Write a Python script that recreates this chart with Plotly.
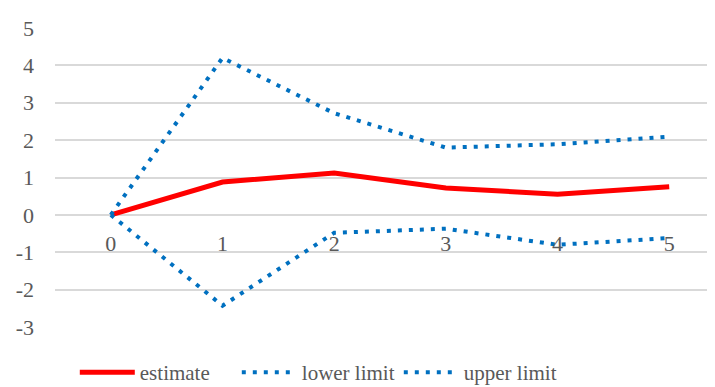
import plotly.graph_objects as go

categories = ["0", "1", "2", "3", "4", "5"]
estimate = [0, 0.88, 1.12, 0.72, 0.55, 0.75]
lower_limit = [0, -2.43, -0.48, -0.37, -0.80, -0.62]
upper_limit = [0, 4.2, 2.72, 1.80, 1.89, 2.09]
y_ticks = [-3, -2, -1, 0, 1, 2, 3, 4, 5]
y_tick_labels = ["-3", "-2", "-1", "0", "1", "2", "3", "4", "5"]

FONT = "Liberation Serif"
GREY = "#595959"

fig = go.Figure()
fig.add_trace(go.Scatter(x=categories, y=estimate, name="estimate", mode="lines",
                         line=dict(color="#FF0000", width=5)))
fig.add_trace(go.Scatter(x=categories, y=lower_limit, name="lower limit", mode="lines",
                         line=dict(color="#0070C0", width=4, dash="4px,7px")))
fig.add_trace(go.Scatter(x=categories, y=upper_limit, name="upper limit", mode="lines",
                         line=dict(color="#0070C0", width=4, dash="4px,7px")))

fig.update_layout(
    width=715, height=387,
    margin=dict(l=47, r=8, t=20, b=68, autoexpand=False),
    paper_bgcolor="white", plot_bgcolor="white",
    font=dict(family=FONT, size=22, color=GREY),
    showlegend=True,
    legend=dict(orientation="h", xref="paper", x=0.03, xanchor="left",
                yref="container", y=0.058, yanchor="middle",
                font=dict(family=FONT, size=21, color=GREY),
                itemwidth=55, entrywidth=92, entrywidthmode="pixels",
                traceorder="normal"),
    xaxis=dict(type="category", range=[-0.5, 5.41], showgrid=False, zeroline=False,
               showline=False, anchor="free", position=0.375, ticks="", automargin=False,
               ticklabelstandoff=13, tickfont=dict(family=FONT, size=22, color=GREY)),
    yaxis=dict(range=[-3, 5], tickmode="array", tickvals=y_ticks, ticktext=y_tick_labels,
               showgrid=True, gridcolor="#D9D9D9", gridwidth=1.5, automargin=False,
               zeroline=False, showline=False, ticks="", ticklabelstandoff=20,
               tickfont=dict(family=FONT, size=22, color=GREY)),
)

fig.write_html("out.html")
